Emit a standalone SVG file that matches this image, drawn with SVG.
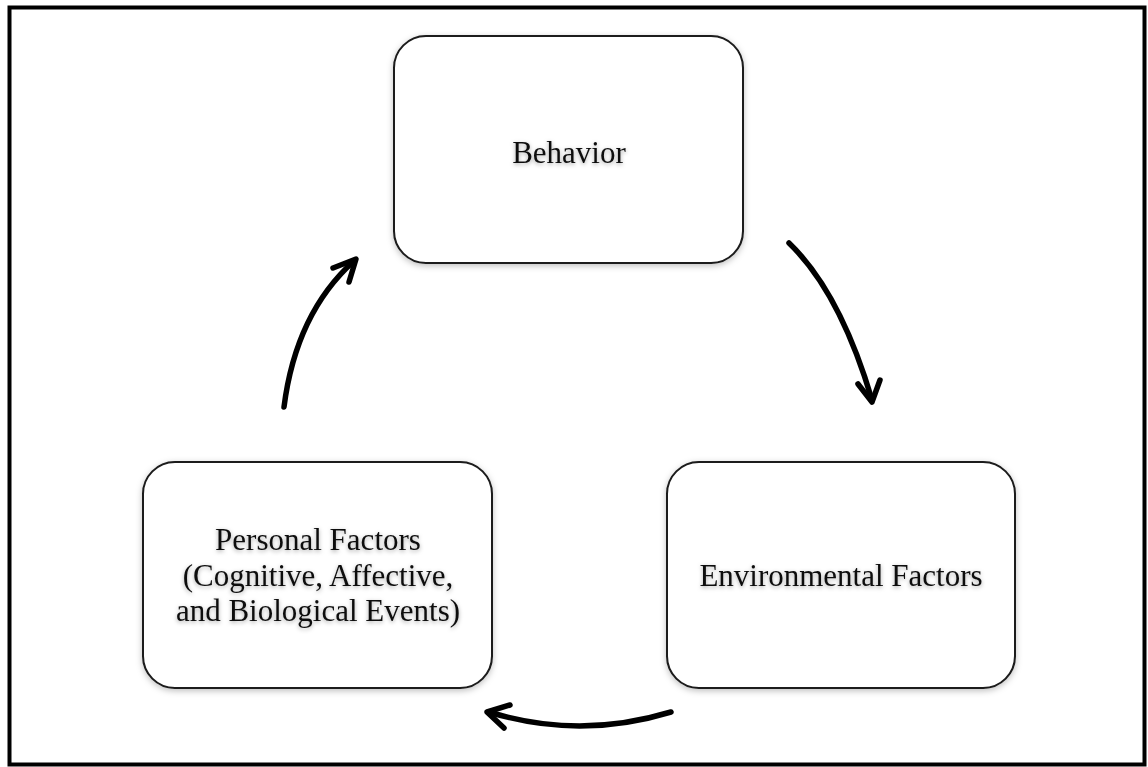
<svg xmlns="http://www.w3.org/2000/svg" width="1148" height="767" viewBox="0 0 1148 767">
<style>
.box{fill:#fff;stroke:#1a1a1a;stroke-width:2;filter:url(#bs)}
.lbl{font-family:"Liberation Serif","Times New Roman",serif;font-size:31px;fill:#111;text-anchor:middle;filter:url(#ts)}
.arr{fill:none;stroke:#000;stroke-width:5.5;stroke-linecap:round;stroke-linejoin:round}
</style>
<defs>
<filter id="bs" x="-10%" y="-10%" width="120%" height="120%">
<feDropShadow dx="0" dy="2" stdDeviation="3" flood-color="#000" flood-opacity="0.25"/>
</filter>
<filter id="ts" x="-10%" y="-30%" width="120%" height="160%">
<feDropShadow dx="0" dy="1.5" stdDeviation="2" flood-color="#000" flood-opacity="0.35"/>
</filter>
</defs>
<rect width="1148" height="767" fill="#fff"/>
<rect x="9.5" y="7.5" width="1135" height="757" fill="none" stroke="#000" stroke-width="4"/>
<g id="behavior">
<rect class="box" x="394" y="36" width="349" height="227" rx="32"/>
<text class="lbl" x="569" y="163">Behavior</text>
</g>
<g id="environmental">
<rect class="box" x="667" y="462" width="348" height="226" rx="32"/>
<text class="lbl" x="841" y="586">Environmental Factors</text>
</g>
<g id="personal">
<rect class="box" x="143" y="462" width="349" height="226" rx="32"/>
<text class="lbl" x="318" y="550">Personal Factors</text>
<text class="lbl" x="318" y="586">(Cognitive, Affective,</text>
<text class="lbl" x="318" y="621">and Biological Events)</text>
</g>
<g id="connectors">
<path class="arr" d="M789,243 Q840,292 872,400"/>
<polyline class="arr" points="858,384 872,402 880,380"/>
<path class="arr" d="M284,407 Q296,313 354,261"/>
<polyline class="arr" points="333,268 356,259 349,282"/>
<path class="arr" d="M671,712 Q579,740 489,712"/>
<polyline class="arr" points="510,705 487,712 504,728"/>
</g>
</svg>
